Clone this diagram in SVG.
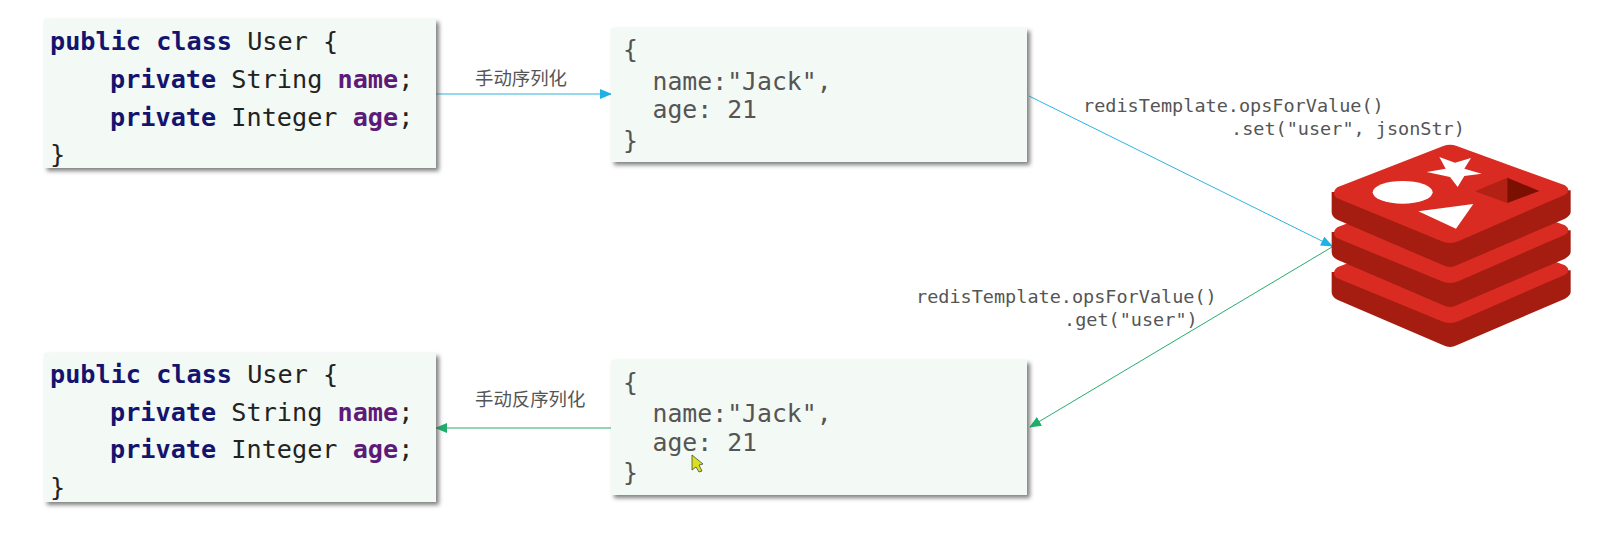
<svg xmlns="http://www.w3.org/2000/svg" width="1622" height="536" viewBox="0 0 1622 536">
<style>
.mono{font-family:"DejaVu Sans Mono","Liberation Mono",monospace}
.code{font-size:25.2px;font-weight:400;fill:#222}
.kw{font-weight:700;fill:#14146e}
.var{font-weight:700;fill:#5e1a78}
.json{font-size:24.8px;fill:#555}
.call{font-size:18.5px;fill:#555}
.zh{font-family:"Noto Sans CJK SC","Noto Sans",sans-serif;font-size:18.4px;fill:#555}
.box{fill:#f3f9f4;filter:url(#sh)}
.blue{stroke:#2fb3e0;stroke-width:1;fill:none}
.green{stroke:#27ad6e;stroke-width:1;fill:none}
.side{fill:#a51c10}
.top{fill:#d92b21}
</style>
<defs>
<filter id="sh" x="-5%" y="-10%" width="110%" height="120%"><feDropShadow dx="3" dy="3" stdDeviation="2" flood-color="#555" flood-opacity=".75"/></filter>
<marker id="ab" markerWidth="13" markerHeight="11" refX="11" refY="5" orient="auto" markerUnits="userSpaceOnUse"><path d="M0,0 L12,5 L0,10 Z" fill="#1fb0e6"/></marker>
<marker id="ag" markerWidth="13" markerHeight="11" refX="11" refY="5" orient="auto" markerUnits="userSpaceOnUse"><path d="M0,0 L12,5 L0,10 Z" fill="#1fae6a"/></marker>
<g id="layer"><path class="side" d="M155,210 V270 Q155,285 172,293 L490,430 Q510,440 530,430 L855,290 Q872,280 872,270 V205 Z"/><path class="top" d="M172,196 L490,72 Q510,64 530,72 L855,190 Q875,205 855,218 L535,358 Q510,368 485,358 L170,228 Q152,212 172,196 Z"/></g>
</defs>
<g id="connectors">
<line class="blue" x1="436" y1="94" x2="611" y2="94" marker-end="url(#ab)"/>
<line class="blue" x1="1029" y1="96" x2="1332" y2="246" marker-end="url(#ab)"/>
<line class="green" x1="1332" y1="247" x2="1030" y2="427" marker-end="url(#ag)"/>
<line class="green" x1="611" y1="428" x2="436" y2="428" marker-end="url(#ag)"/>
</g>
<g id="user-top"><rect class="box" x="44" y="19" width="392" height="149"/>
<text class="mono code" x="50" y="50"><tspan class="kw">public class</tspan> User {</text>
<text class="mono code" x="110" y="88"><tspan class="kw">private</tspan> String <tspan class="var">name</tspan>;</text>
<text class="mono code" x="110" y="126"><tspan class="kw">private</tspan> Integer <tspan class="var">age</tspan>;</text>
<text class="mono code" x="50" y="163">}</text></g>
<g id="json-top"><rect class="box" x="611" y="28" width="416" height="134"/>
<text class="mono json" x="623" y="58">{</text>
<text class="mono json" x="652.5" y="90">name:"Jack",</text>
<text class="mono json" x="652.5" y="118">age: 21</text>
<text class="mono json" x="623" y="149">}</text></g>
<g id="user-bottom"><rect class="box" x="44" y="353" width="392" height="149"/>
<text class="mono code" x="50" y="383"><tspan class="kw">public class</tspan> User {</text>
<text class="mono code" x="110" y="421"><tspan class="kw">private</tspan> String <tspan class="var">name</tspan>;</text>
<text class="mono code" x="110" y="458"><tspan class="kw">private</tspan> Integer <tspan class="var">age</tspan>;</text>
<text class="mono code" x="50" y="496">}</text></g>
<g id="json-bottom"><rect class="box" x="611" y="360" width="416" height="135"/>
<text class="mono json" x="623" y="391">{</text>
<text class="mono json" x="652.5" y="422">name:"Jack",</text>
<text class="mono json" x="652.5" y="451">age: 21</text>
<text class="mono json" x="623" y="481">}</text></g>
<g id="labels">
<text class="zh" x="475" y="85">手动序列化</text>
<text class="zh" x="475" y="406">手动反序列化</text>
<text class="mono call" x="1083" y="112">redisTemplate.opsForValue()</text>
<text class="mono call" x="1231" y="135">.set("user", jsonStr)</text>
<text class="mono call" x="916" y="303">redisTemplate.opsForValue()</text>
<text class="mono call" x="1064" y="326">.get("user")</text>
</g>
<g id="redis" transform="translate(1280,122) scale(.33333)">
<use href="#layer" y="240"/>
<use href="#layer" y="120"/>
<use href="#layer"/>
<ellipse cx="368" cy="211" rx="90" ry="34" fill="#fff"/>
<polygon fill="#fff" points="478,105 525,122 573,108 553,140 605,155 553,162 533,195 510,165 440,150 497,140"/>
<polygon fill="#fff" points="415,268 580,246 528,320"/>
<polygon fill="#b32014" points="585,208 682,167 682,243"/>
<polygon fill="#7a0f02" points="682,167 778,207 682,243"/>
</g>
<g id="cursor"><polygon points="692,455 692,470 696,467 699,472 702,471 699,465 703,464" fill="#d8e021" stroke="#333" stroke-width=".7"/></g>
</svg>
